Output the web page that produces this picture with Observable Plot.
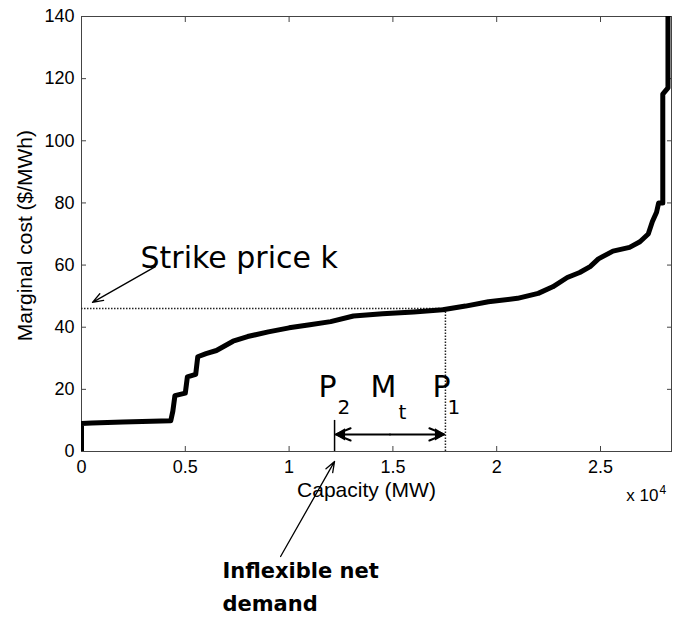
<!DOCTYPE html>
<html>
<head>
<meta charset="utf-8">
<script src="https://cdn.jsdelivr.net/npm/d3@7"></script>
<script src="https://cdn.jsdelivr.net/npm/@observablehq/plot@0.6"></script>
<style>
  html, body { margin: 0; padding: 0; background: #fff; }
  #chart svg { display: block; }
</style>
</head>
<body>
<div id="chart"></div>
<script>
// Supply curve (capacity in MW, marginal cost in $/MWh)
const capacity = [0, 0, 500, 2000, 4300, 4400, 4500, 5000, 5100, 5500, 5600, 6000, 6500, 7300, 8000, 9000, 10000, 11000, 12000, 13100, 14500, 16000, 17400, 18500, 19600, 21000, 22000, 22700, 23400, 24000, 24500, 24900, 25600, 26400, 26900, 27300, 27500, 27700, 27800, 28000, 28000, 28250, 28250];
const cost =     [0, 9, 9.2, 9.5, 9.9, 13, 18, 18.8, 24, 24.8, 30.5, 31.5, 32.5, 35.5, 37, 38.5, 39.8, 40.8, 41.8, 43.6, 44.3, 44.9, 45.6, 46.8, 48.2, 49.3, 50.9, 53, 56, 57.6, 59.5, 62, 64.5, 65.7, 67.5, 70, 74, 77, 80, 80, 115, 117, 145];

const xTicks = [0, 5000, 10000, 15000, 20000, 25000];
const yTicks = [0, 20, 40, 60, 80, 100, 120, 140];

// Key quantities
const strikePrice = 46;
const P1 = 17530;
const P2 = 12190;
const P2top = 10;
const MtLevel = 5.5;

// Annotation texts (x in MW, y = baseline in $/MWh)
const bigLabels = [
  {x: 2842, y: 59.2, text: "Strike price k"},
  {x: 11416, y: 17.4, text: "P"},
  {x: 13921, y: 17.4, text: "M"},
  {x: 16908, y: 17.4, text: "P"}
];
const subLabels = [
  {x: 12331, y: 12.2, text: "2"},
  {x: 15270, y: 10.4, text: "t"},
  {x: 17630, y: 12.2, text: "1"}
];
const boldLabels = [
  {x: 6790, y: -40.6, text: "Inflexible net"},
  {x: 6790, y: -51.2, text: "demand"}
];
const arrows = [
  {x1: 3560, y1: 59.5, x2: 530, y2: 48},
  {x1: 9590, y1: -33.8, x2: P2, y2: -3.2}
];
const mtArrows = [
  {x1: (P1 + P2) / 2, x2: P2 + 60, y: MtLevel},
  {x1: (P1 + P2) / 2, x2: P1 - 60, y: MtLevel}
];
const mtHeadsLeft = [{x: P2, y: MtLevel}];
const mtHeadsRight = [{x: P1, y: MtLevel}];

const curve = capacity.map((c, i) => ({x: c, y: cost[i]}));

const chart = Plot.plot({
  width: 687,
  height: 618,
  marginLeft: 81,
  marginRight: 16,
  marginTop: 16,
  marginBottom: 167,
  style: {fontFamily: "'Liberation Sans', Arial, sans-serif", fontSize: "18px", color: "#000", background: "#fff"},
  x: {domain: [0, 28420], axis: null},
  y: {domain: [0, 140], axis: null},
  marks: [
    Plot.frame({stroke: "#444", strokeWidth: 1}),
    Plot.axisX({ticks: xTicks, tickSize: -5, tickPadding: 14, tickFormat: d => String(d / 1e4), fontSize: 18, label: null, stroke: "#444"}),
    Plot.axisX({anchor: "top", ticks: xTicks, tickSize: -5, tickFormat: () => "", label: null, stroke: "#444"}),
    Plot.axisY({ticks: yTicks, tickSize: -5, tickPadding: 12, fontSize: 18, label: null, stroke: "#444"}),
    Plot.axisY({anchor: "right", ticks: yTicks, tickSize: -5, tickFormat: () => "", label: null, stroke: "#444"}),
    // strike price and P1 dotted guides
    Plot.ruleY([strikePrice], {x1: 0, x2: P1, stroke: "#222", strokeWidth: 1.5, strokeDasharray: "1.5,1.5"}),
    Plot.ruleX([P1], {y1: 0, y2: strikePrice, stroke: "#222", strokeWidth: 1.5, strokeDasharray: "1.5,1.5"}),
    // P2 solid marker
    Plot.ruleX([P2], {y1: 0, y2: P2top, stroke: "#000", strokeWidth: 1.5}),
    // supply curve
    Plot.line(curve, {x: "x", y: "y", stroke: "#000", strokeWidth: 5, clip: true}),
    // Mt double arrow
    Plot.arrow(mtArrows, {x1: "x1", x2: "x2", y1: "y", y2: "y", stroke: "#000", strokeWidth: 2, headLength: 12, headAngle: 45}),
    Plot.dot(mtHeadsLeft, {x: "x", y: "y", rotate: -90, dx: 7, symbol: "triangle", r: 4.5, fill: "#000"}),
    Plot.dot(mtHeadsRight, {x: "x", y: "y", rotate: 90, dx: -7, symbol: "triangle", r: 4.5, fill: "#000"}),
    // pointer arrows
    Plot.arrow(arrows, {x1: "x1", y1: "y1", x2: "x2", y2: "y2", stroke: "#000", strokeWidth: 1.3, headLength: 13, headAngle: 40}),
    // annotation texts
    Plot.text(bigLabels, {x: "x", y: "y", text: "text", textAnchor: "start", lineAnchor: "bottom", fontSize: 30, fontFamily: "'DejaVu Sans', sans-serif", fill: "#000"}),
    Plot.text(subLabels, {x: "x", y: "y", text: "text", textAnchor: "start", lineAnchor: "bottom", fontSize: 20, fontFamily: "'DejaVu Sans', sans-serif", fill: "#000"}),
    Plot.text(boldLabels, {x: "x", y: "y", text: "text", textAnchor: "start", lineAnchor: "bottom", fontSize: 21, fontWeight: "bold", fontFamily: "'DejaVu Sans', sans-serif", fill: "#000"}),
    // axis titles
    Plot.text(["Capacity (MW)"], {x: 13728, frameAnchor: "bottom", dy: 45, textAnchor: "middle", lineAnchor: "bottom", fontSize: 21, fill: "#000"}),
    Plot.text(["Marginal cost ($/MWh)"], {y: 69.5, frameAnchor: "left", dx: -56, rotate: -90, textAnchor: "middle", fontSize: 21, fill: "#000"}),
    Plot.text(["x 10"], {x: 27790, frameAnchor: "bottom", dy: 49, textAnchor: "end", lineAnchor: "bottom", fontSize: 17, fill: "#000"}),
    Plot.text(["4"], {x: 27840, frameAnchor: "bottom", dy: 42, textAnchor: "start", lineAnchor: "bottom", fontSize: 12, fill: "#000"})
  ]
});

document.getElementById("chart").appendChild(chart);
</script>
</body>
</html>
